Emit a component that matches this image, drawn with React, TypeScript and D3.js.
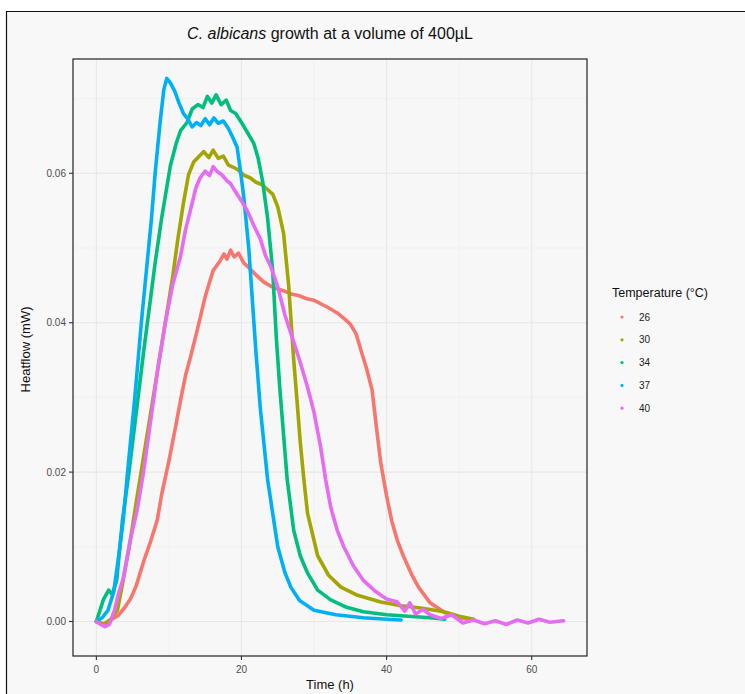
import * as d3 from 'd3'

// Heatflow readings (time in h, heatflow in mW)
const temp26: [number, number][] = [
  [0, 0], [1, -0.0003], [2, 0.0002], [3, 0.0008], [4, 0.002], [4.7, 0.003], [5.5, 0.0048], [6.5, 0.008],
  [7.5, 0.0108], [8.4, 0.0136], [9, 0.017], [10, 0.0215], [11, 0.0265], [11.6, 0.0296], [12.3, 0.033],
  [13, 0.0355], [13.9, 0.039], [15, 0.0435], [16.1, 0.047], [17, 0.0482], [17.6, 0.0492], [18, 0.0485],
  [18.5, 0.0497], [19, 0.0488], [19.6, 0.0493], [20.3, 0.048], [21, 0.0474], [22, 0.0464], [23, 0.0455],
  [24, 0.0449], [25, 0.0445], [26, 0.0442], [27, 0.0438], [28, 0.0436], [29, 0.0432], [30, 0.043],
  [31, 0.0425], [32, 0.042], [33.2, 0.0413], [34.2, 0.0405], [35, 0.0398], [35.8, 0.0385], [36.5, 0.0362],
  [37.2, 0.034], [38, 0.031], [38.6, 0.026], [39.2, 0.0212], [40, 0.0168], [40.7, 0.0135], [41.5, 0.0108],
  [42.3, 0.0088], [43.5, 0.0062], [44.4, 0.0046], [46, 0.0025], [48, 0.0012], [50, 0.0005], [52, 0.0002]
]

const temp30: [number, number][] = [
  [0, 0], [1, -0.0004], [2, 0.0003], [2.9, 0.0015], [3.7, 0.0055], [4.7, 0.011], [5.5, 0.016], [6.5, 0.022],
  [7.5, 0.028], [8.5, 0.034], [9.5, 0.04], [10.5, 0.046], [11.2, 0.051], [12, 0.056], [12.7, 0.0598],
  [13.4, 0.0615], [14, 0.0621], [14.8, 0.0629], [15.5, 0.0621], [16.1, 0.0631], [16.8, 0.062], [17.5, 0.0623],
  [18.2, 0.0611], [18.9, 0.0608], [19.6, 0.0604], [20.4, 0.0597], [21.2, 0.0594], [22, 0.0588], [22.8, 0.0585],
  [23.5, 0.0579], [24.3, 0.0572], [25, 0.0555], [25.8, 0.052], [26.5, 0.045], [27.2, 0.035], [27.7, 0.029],
  [28.1, 0.024], [28.6, 0.019], [29.1, 0.0145], [30.5, 0.0088], [32, 0.0062], [33.7, 0.0046], [36, 0.0035],
  [39.2, 0.0026], [42, 0.0021], [44.7, 0.0018], [47.9, 0.0013], [50, 0.0007], [52, 0.0003]
]

const temp34: [number, number][] = [
  [0, 0], [0.5, 0.0015], [1, 0.003], [1.7, 0.0042], [2.2, 0.0036], [2.8, 0.0055], [3.6, 0.0136], [4.5, 0.02],
  [5.5, 0.028], [6.5, 0.036], [7.3, 0.042], [8.1, 0.048], [9, 0.054], [10.2, 0.061], [11, 0.064],
  [11.6, 0.0657], [12.5, 0.0668], [13.2, 0.0686], [14, 0.0692], [14.7, 0.0688], [15.3, 0.0703], [15.9, 0.0694],
  [16.5, 0.0705], [17.2, 0.0692], [17.9, 0.0698], [18.5, 0.0684], [19.2, 0.068], [20, 0.0668], [20.8, 0.0655],
  [21.7, 0.064], [22.3, 0.062], [22.9, 0.059], [23.6, 0.054], [24.3, 0.047], [24.8, 0.038], [25.3, 0.031],
  [26.3, 0.019], [27.2, 0.0122], [28.1, 0.0088], [29.1, 0.0065], [30.5, 0.0042], [32.3, 0.0029],
  [34.5, 0.0019], [36.8, 0.0013], [40, 0.0009], [43, 0.0007], [46, 0.0005], [48, 0.0003]
]

const temp37: [number, number][] = [
  [0, 0], [0.8, 0.0005], [1.6, 0.0015], [2.4, 0.004], [3, 0.0082], [3.7, 0.0135], [4.3, 0.02], [5.3, 0.03],
  [6.2, 0.04], [7, 0.048], [7.6, 0.054], [8.1, 0.06], [8.8, 0.067], [9.3, 0.0712], [9.7, 0.0727], [10.2, 0.0721],
  [10.8, 0.071], [11.4, 0.0694], [12, 0.068], [12.6, 0.0673], [13.2, 0.0662], [13.8, 0.0668], [14.4, 0.0664],
  [15, 0.0673], [15.6, 0.0665], [16.2, 0.0674], [16.8, 0.0667], [17.5, 0.067], [18.2, 0.066], [18.8, 0.0648],
  [19.4, 0.0635], [19.9, 0.06], [20.3, 0.057], [20.7, 0.053], [21, 0.05], [21.5, 0.043], [22, 0.036],
  [22.6, 0.0285], [23.6, 0.019], [25, 0.01], [26, 0.0065], [26.8, 0.0046], [28, 0.0028], [30, 0.0015],
  [33, 0.0009], [36.8, 0.0005], [40, 0.0003], [42, 0.0002]
]

const temp40: [number, number][] = [
  [0, 0], [0.6, -0.0004], [1.2, -0.0007], [1.8, -0.0004], [2.5, 0.0015], [3, 0.0035], [3.7, 0.0058],
  [4.7, 0.011], [5.6, 0.0148], [6.5, 0.02], [7.5, 0.027], [8.5, 0.034], [9.5, 0.04], [10.5, 0.045],
  [11.6, 0.0489], [12.3, 0.0525], [13, 0.0552], [13.7, 0.058], [14.3, 0.0594], [15, 0.0603], [15.6, 0.0597],
  [16.1, 0.0609], [16.7, 0.0602], [17.3, 0.0598], [18, 0.059], [18.5, 0.0586], [19.2, 0.0575], [20, 0.0563],
  [20.8, 0.055], [21.7, 0.053], [22.6, 0.0512], [23.3, 0.049], [24, 0.0476], [25, 0.0448], [26, 0.041],
  [26.8, 0.0386], [28, 0.035], [29.1, 0.0314], [30, 0.028], [30.9, 0.0234], [31.6, 0.019], [32.3, 0.0153],
  [33.2, 0.0122], [34.1, 0.01], [35.4, 0.0075], [36.8, 0.0055], [38.5, 0.004], [40, 0.003], [41.5, 0.0026],
  [42.5, 0.0014], [43.2, 0.0025], [44, 0.001], [45, 0.0016], [46, 0.0009], [47.5, 0.0004], [49, 0.0009],
  [50.5, -0.0002], [52, 0.0002], [53.5, -0.0003], [55, 0.0001], [56.5, -0.0004], [58, 0.0002],
  [59.5, -0.0002], [61, 0.0003], [62.5, -0.0001], [64.4, 0.0001]
]

const temperatures = ['26', '30', '34', '37', '40']
const colours = ['#F8766D', '#A3A500', '#00BF7D', '#00B0F6', '#E76BF3']
const xTicks = [0, 20, 40, 60]
const xMinor = [10, 30, 50]
const yTicks = [0, 0.02, 0.04, 0.06]
const yMinor = [0.01, 0.03, 0.05, 0.07]

const series = [temp26, temp30, temp34, temp37, temp40]

const W = 745
const H = 694
const panel = { left: 73, right: 587, top: 59, bottom: 656 }
const font = '"Liberation Sans", Arial, Helvetica, sans-serif'

export default function App() {
  const x = d3.scaleLinear().domain([-3.22, 67.62]).range([panel.left, panel.right])
  const y = d3.scaleLinear().domain([-0.00462, 0.0753]).range([panel.bottom, panel.top])

  const line = d3
    .line<[number, number]>()
    .x((d) => x(d[0]))
    .y((d) => y(d[1]))

  const midX = (panel.left + panel.right) / 2
  const midY = (panel.top + panel.bottom) / 2

  return (
    <svg
      width={W}
      height={H}
      style={{ position: 'absolute', left: 0, top: 0, fontFamily: font }}
    >
      <rect x={0} y={0} width={W} height={H} fill='#ffffff' />
      <rect x={6} y={11} width={W - 6} height={H - 11} fill='#f8f8f8' />
      <line x1={6.5} x2={6.5} y1={11} y2={H} stroke='#111' strokeWidth={1.2} />
      <line x1={6} x2={W} y1={11.5} y2={11.5} stroke='#111' strokeWidth={1.2} />

      {/* title */}
      <text x={midX} y={39} textAnchor='middle' fontSize={16} fill='#111'>
        <tspan fontStyle='italic'>C. albicans</tspan> growth at a volume of 400µL
      </text>

      {/* panel */}
      <rect
        x={panel.left}
        y={panel.top}
        width={panel.right - panel.left}
        height={panel.bottom - panel.top}
        fill='#f7f7f7'
      />
      <g>
        {xMinor.map((t) => (
          <line key={'xm' + t} x1={x(t)} x2={x(t)} y1={panel.top} y2={panel.bottom} stroke='#efefef' strokeWidth={0.6} />
        ))}
        {yMinor.map((t) => (
          <line key={'ym' + t} x1={panel.left} x2={panel.right} y1={y(t)} y2={y(t)} stroke='#efefef' strokeWidth={0.6} />
        ))}
        {xTicks.map((t) => (
          <line key={'xg' + t} x1={x(t)} x2={x(t)} y1={panel.top} y2={panel.bottom} stroke='#e7e7e7' strokeWidth={1.1} />
        ))}
        {yTicks.map((t) => (
          <line key={'yg' + t} x1={panel.left} x2={panel.right} y1={y(t)} y2={y(t)} stroke='#e7e7e7' strokeWidth={1.1} />
        ))}
      </g>

      {/* curves */}
      <g fill='none' strokeWidth={3.6} strokeLinejoin='round' strokeLinecap='round'>
        {series.map((s, i) => (
          <path key={temperatures[i]} d={line(s) ?? ''} stroke={colours[i]} />
        ))}
      </g>

      <rect
        x={panel.left}
        y={panel.top}
        width={panel.right - panel.left}
        height={panel.bottom - panel.top}
        fill='none'
        stroke='#222'
        strokeWidth={1.2}
      />

      {/* x axis */}
      {xTicks.map((t) => (
        <g key={'xt' + t}>
          <line x1={x(t)} x2={x(t)} y1={panel.bottom} y2={panel.bottom + 4} stroke='#333' strokeWidth={1.1} />
          <text x={x(t)} y={panel.bottom + 17} textAnchor='middle' fontSize={10} fill='#4d4d4d'>
            {t}
          </text>
        </g>
      ))}
      <text x={midX} y={689} textAnchor='middle' fontSize={13} fill='#111'>
        Time (h)
      </text>

      {/* y axis */}
      {yTicks.map((t) => (
        <g key={'yt' + t}>
          <line x1={panel.left - 4} x2={panel.left} y1={y(t)} y2={y(t)} stroke='#333' strokeWidth={1.1} />
          <text x={panel.left - 7} y={y(t) + 3.5} textAnchor='end' fontSize={10} fill='#4d4d4d'>
            {d3.format('.2f')(t)}
          </text>
        </g>
      ))}
      <text
        transform={`translate(30, ${midY - 8}) rotate(-90)`}
        textAnchor='middle'
        fontSize={13}
        fill='#111'
      >
        Heatflow (mW)
      </text>

      {/* legend */}
      <text x={612} y={297} fontSize={12.5} fill='#111'>
        Temperature (°C)
      </text>
      {temperatures.map((t, i) => (
        <g key={'lg' + t} transform={`translate(622, ${317 + i * 22.8})`}>
          <circle cx={0} cy={0} r={1.6} fill={colours[i]} />
          <text x={17} y={3.6} fontSize={10} fill='#222'>
            {t}
          </text>
        </g>
      ))}
    </svg>
  )
}
